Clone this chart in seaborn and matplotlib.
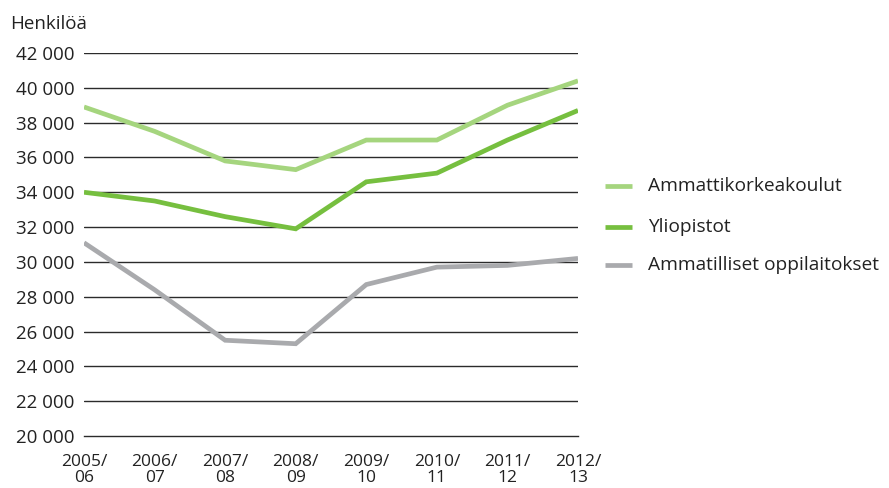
import matplotlib
matplotlib.use("Agg")
import matplotlib.pyplot as plt
import seaborn as sns
import pandas as pd

vuodet = ["2005/\n06", "2006/\n07", "2007/\n08", "2008/\n09", "2009/\n10", "2010/\n11", "2011/\n12", "2012/\n13"]
amk = [38900, 37500, 35800, 35300, 37000, 37000, 39000, 40400]
yliopistot = [34000, 33500, 32600, 31900, 34600, 35100, 37000, 38700]
ammatilliset = [31100, 28400, 25500, 25300, 28700, 29700, 29800, 30200]
sarjat = ["Ammattikorkeakoulut", "Yliopistot", "Ammatilliset oppilaitokset"]
varit = ["#a5d57e", "#76bf3f", "#a9aaad"]

rows = []
for nimi, arvot in zip(sarjat, [amk, yliopistot, ammatilliset]):
    for i, v in enumerate(arvot):
        rows.append({"x": i, "arvo": v, "sarja": nimi})
df = pd.DataFrame(rows)

sns.set_style("white")
plt.rcParams['font.family'] = ['Open Sans', 'DejaVu Sans']

fig = plt.figure(figsize=(8.89, 4.88), dpi=100)
ax = fig.add_axes([84/889, 1-436/488, (578-84)/889, (436-53)/488])

for y in range(22000, 42001, 2000):
    ax.axhline(y, color="#2b2b2b", lw=1.0, zorder=1)

sns.lineplot(data=df, x="x", y="arvo", hue="sarja", palette=varit, hue_order=sarjat,
             lw=3.4, ax=ax, legend=False, zorder=3, solid_joinstyle="miter",
             solid_capstyle="butt")

ax.set_xlim(0, 7)
ax.set_ylim(20000, 42000)
ax.set_xticks(range(8))
ax.set_xticklabels(vuodet, fontsize=12.5, color="#222222", linespacing=1.0)
ax.set_yticks(range(20000, 42001, 2000))
ax.set_yticklabels([f"{v // 1000} 000" for v in range(20000, 42001, 2000)], fontsize=13.5, color="#222222")
ax.set_xlabel("")
ax.set_ylabel("")
for s in ["left", "right", "top"]:
    ax.spines[s].set_visible(False)
ax.spines["bottom"].set_color("#2b2b2b")
ax.spines["bottom"].set_linewidth(1.0)
ax.tick_params(axis="x", direction="out", length=7, width=1.0, color="#2b2b2b", pad=6)
ax.tick_params(axis="y", length=0, pad=7)

fig.text(10/889, 1-29/488, "Henkilöä", fontsize=13.5, color="#222222")

legend_y = [186, 227, 265]
for nimi, vari, yy in zip(sarjat, varit, legend_y):
    fy = 1 - yy/488
    fig.add_artist(plt.Line2D([605/889, 632/889], [fy, fy], color=vari, lw=3.4,
                              solid_capstyle="butt"))
    fig.text(648/889, fy, nimi, fontsize=13.8, color="#222222", va="center")

fig.savefig("out.png", dpi=100)
